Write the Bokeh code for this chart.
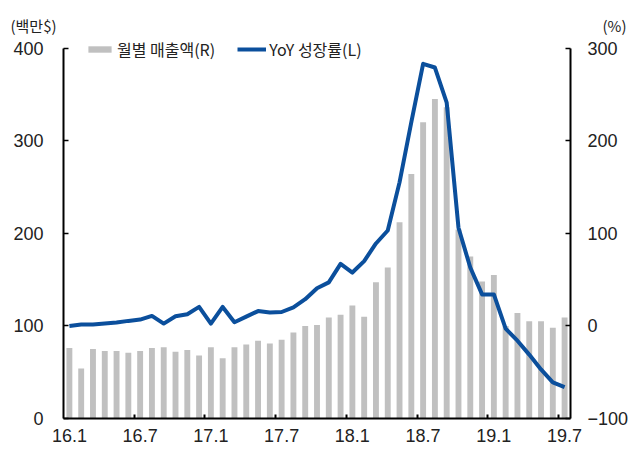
from bokeh.plotting import figure
from bokeh.models import Range1d, LinearAxis, FixedTicker, Label, Legend, LegendItem, ColumnDataSource
from bokeh.layouts import column
from bokeh.embed import file_html
from bokeh.resources import INLINE

# ---- data ----
months = [f"{y}.{m}" for y in (16, 17, 18, 19) for m in range(1, 13)][:43]
sales = [76, 54, 75, 73, 73, 71, 73, 76, 77, 72, 74, 68, 77, 65, 77, 80,
         84, 81, 85, 93, 100, 101, 109, 112, 122, 110,
         147, 163, 212, 264, 320, 345, 336, 204,
         175, 148, 155, 100, 114, 105, 105, 98, 109]
yoy = [0, 1.4, 1.4, 2.5, 3.6, 5.4, 6.8, 10.8, 2.5, 10.4, 12.6, 20.5, 2.5, 20.5,
       4, 10, 16, 14.4, 15, 20,
       28.8, 40.7, 47, 67, 57.6, 70, 89, 103,
       155, 220, 283, 279, 241, 106, 63, 34, 34,
       -3, -16, -31, -47, -61, -66]
left_ticks = [0, 100, 200, 300, 400]
right_ticks = [-100, 0, 100, 200, 300]
left_unit = "(백만$)"
right_unit = "(%)"

idx = list(range(len(months)))
src = ColumnDataSource(dict(x=idx, month=months, sales=sales, yoy=yoy))

FONT = "Liberation Sans"
KFONT = "Noto Sans CJK KR"
TXT = "#222222"
TOTAL_W = 632
HEAD_H = 36

# ---- header with unit labels ----
head = figure(width=TOTAL_W, height=HEAD_H, output_backend="svg", toolbar_location=None,
              x_range=Range1d(0, TOTAL_W), y_range=Range1d(0, HEAD_H), frame_align=False,
              min_border=0, min_border_left=0, min_border_right=0, min_border_top=0, min_border_bottom=0)
head.axis.visible = False
head.grid.visible = False
head.outline_line_color = None
head.add_layout(Label(x=10, y=HEAD_H - 25, text=left_unit, text_font=KFONT, text_font_size="15px",
                      text_color=TXT, text_baseline="middle", text_align="left"))
head.add_layout(Label(x=626, y=HEAD_H - 25, text=right_unit, text_font=KFONT, text_font_size="15px",
                      text_color=TXT, text_baseline="middle", text_align="right"))

# ---- main chart ----
p = figure(frame_width=507, frame_height=382, output_backend="svg", toolbar_location=None,
           x_range=Range1d(-0.5, len(months) - 0.5), y_range=Range1d(0, 412.5), frame_align=False,
           min_border_left=63, min_border_right=TOTAL_W - 63 - 507, min_border_top=0, min_border_bottom=28)
p.extra_y_ranges = {"pct": Range1d(-100, 312.5)}
p.outline_line_color = None
p.xgrid.visible = False
p.ygrid.visible = False

bars = p.vbar(x="x", top="sales", width=0.5, source=src, fill_color="#C0C0C0", line_color=None)
line = p.line(x="x", y="yoy", source=src, y_range_name="pct", line_color="#0B4F9C", line_width=4,
              line_join="round")

# bottom axis
label_pos = [idx[i] for i in range(0, len(months), 6)]
xa = p.xaxis[0]
xa.ticker = FixedTicker(ticks=label_pos, minor_ticks=[i - 0.5 for i in label_pos[1:]])
xa.major_label_overrides = {idx[i]: months[i] for i in range(0, len(months), 6)}
xa.major_tick_in = 0
xa.major_tick_out = 0
xa.minor_tick_in = 4
xa.minor_tick_out = 0
xa.minor_tick_line_color = "black"
xa.minor_tick_line_width = 2
xa.axis_line_width = 2
xa.axis_line_color = "black"
xa.major_label_text_font = FONT
xa.major_label_text_font_size = "18px"
xa.major_label_text_color = TXT
xa.major_label_standoff = 10

# left axis
ya = p.yaxis[0]
ya.ticker = FixedTicker(ticks=left_ticks)
ya.bounds = (0, 400)
ya.major_tick_in = 5
ya.major_tick_out = 0
ya.minor_tick_line_color = None
ya.major_tick_line_width = 1.5
ya.axis_line_width = 2
ya.axis_line_color = "black"
ya.major_label_text_font = FONT
ya.major_label_text_font_size = "18px"
ya.major_label_text_color = TXT
ya.major_label_standoff = 20

# right axis
ra = LinearAxis(y_range_name="pct", ticker=FixedTicker(ticks=right_ticks), bounds=(-100, 300))
ra.major_label_overrides = {t: (str(t).replace("-", "\u2212")) for t in right_ticks}
ra.major_tick_in = 5
ra.major_tick_out = 0
ra.minor_tick_line_color = None
ra.major_tick_line_width = 1.5
ra.axis_line_width = 2
ra.axis_line_color = "black"
ra.major_label_text_font = FONT
ra.major_label_text_font_size = "18px"
ra.major_label_text_color = TXT
ra.major_label_standoff = 17
p.add_layout(ra, "right")

legend = Legend(items=[LegendItem(label="월별 매출액(R)", renderers=[bars]),
                       LegendItem(label="YoY 성장률(L)", renderers=[line])],
                orientation="horizontal", location=(22, 357),
                background_fill_alpha=0, border_line_alpha=0,
                label_text_font=KFONT, label_text_font_size="16px", label_text_color=TXT,
                glyph_width=29, glyph_height=8, label_standoff=3, spacing=22,
                padding=0, margin=0, label_height=16)
p.add_layout(legend, "center")

layout = column(head, p, spacing=0)
open("out.html", "w").write(file_html(layout, INLINE))
